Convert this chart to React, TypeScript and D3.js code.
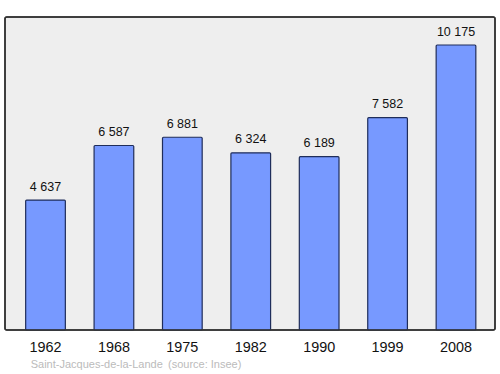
import * as d3 from "d3"

const years = ["1962", "1968", "1975", "1982", "1990", "1999", "2008"]
const population = [4637, 6587, 6881, 6324, 6189, 7582, 10175]
const town = "Saint-Jacques-de-la-Lande"
const source = "(source: Insee)"

const W = 500
const H = 374
const font = "'Liberation Sans', Arial, sans-serif"

// french style thousands separator
const fmt = (v: number) => d3.format(",")(v).replace(/,/g, " ")

export default function App() {
  const x = d3.scaleBand<string>().domain(years).range([11.3, 490.2]).paddingInner(0.42).paddingOuter(0.21)
  const y = d3.scaleLinear().domain([0, 10175]).range([330, 45])

  return (
    <svg
      width={W}
      height={H}
      style={{ position: "absolute", left: 0, top: 0, background: "#fff" }}
      fontFamily={font}
    >
      <rect x={5} y={17} width={490} height={313} rx={2} fill="#eeeeee" stroke="#333" strokeWidth={1.5} />
      {population.map((v, i) => (
        <g key={years[i]}>
          <rect
            x={x(years[i])}
            y={y(v)}
            width={x.bandwidth()}
            height={y(0) - y(v)}
            rx={1}
            fill="#7799ff"
            stroke="#1f2d5a"
            strokeWidth={1.2}
          />
          <text x={x(years[i])! + x.bandwidth() / 2} y={y(v) - 9.5} textAnchor="middle" fontSize={12.5} fill="#111">
            {fmt(v)}
          </text>
        </g>
      ))}
      <rect x={5} y={17} width={490} height={313} rx={2} fill="none" stroke="#333" strokeWidth={1.5} />
      {years.map((yr) => (
        <text key={yr} x={x(yr)! + x.bandwidth() / 2} y={352} textAnchor="middle" fontSize={14.4} fill="#111">
          {yr}
        </text>
      ))}
      <text x={30.7} y={368} fontSize={11} fill="#bbbbbb">
        {town}
      </text>
      <text x={168} y={368} fontSize={11} fill="#bbbbbb">
        {source}
      </text>
    </svg>
  )
}
